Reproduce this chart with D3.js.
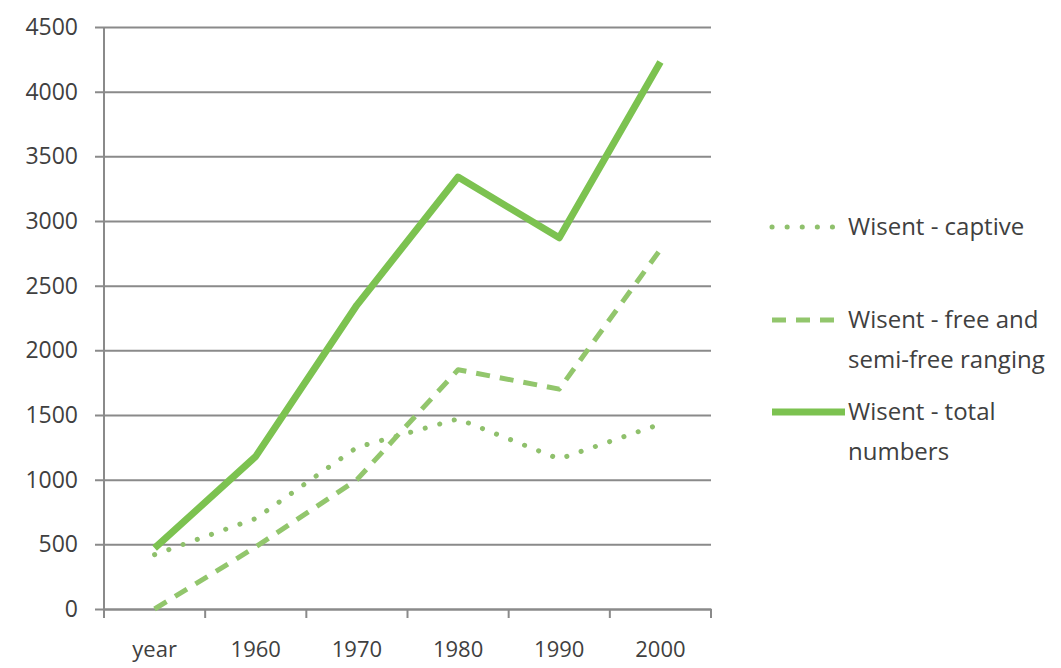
<!DOCTYPE html>
<html>
<head>
<meta charset="utf-8">
<script src="https://cdn.jsdelivr.net/npm/d3@7"></script>
<style>
  body { margin: 0; background: #fff; }
  text { font-family: "Open Sans", "Liberation Sans", sans-serif; fill: #404040; }
</style>
</head>
<body>
<div id="chart"></div>
<script>
// categories along the x axis
let years = ["year", "1960", "1970", "1980", "1990", "2000"];
// series values
let captive = [420, 700, 1250, 1470, 1160, 1430];
let freeRanging = [0, 480, 1000, 1850, 1700, 2780];
let total = [470, 1180, 2350, 3340, 2870, 4230];
let yTicks = [0, 500, 1000, 1500, 2000, 2500, 3000, 3500, 4000, 4500];

let series = [
    {name: ["Wisent - captive"], values: captive, color: "#8fc06c", width: 5, dash: "0.1 15", cap: "round"},
    {name: ["Wisent - free and", "semi-free ranging"], values: freeRanging, color: "#92c66c", width: 5, dash: "14 10", cap: "butt"},
    {name: ["Wisent - total", "numbers"], values: total, color: "#7cc250", width: 7, dash: null, cap: "butt"}
];

let margin = {top: 27, right: 350, bottom: 59, left: 104},
    width = 1061 - margin.left - margin.right,
    height = 668 - margin.top - margin.bottom;

let svg = d3.select("#chart").append("svg")
    .attr("width", 1061)
    .attr("height", 668)
    .append("g")
    .attr("transform", "translate(" + margin.left + "," + margin.top + ")");

let x = d3.scaleBand().domain(years).range([0, width]);
let y = d3.scaleLinear().domain([0, 4500]).range([height, 0]);

// gridlines + y axis
let yAxis = svg.append("g")
    .call(d3.axisLeft(y).tickValues(yTicks).tickSize(-width).tickPadding(26).tickFormat(d3.format("d")));
yAxis.select(".domain").remove();
yAxis.selectAll(".tick line").attr("stroke", "#8a8a8a").attr("stroke-width", 2).attr("x1", -9);
yAxis.selectAll(".tick text").style("font-size", "23px").attr("fill", "#404040");

svg.append("line")
    .attr("x1", 0).attr("x2", 0)
    .attr("y1", 0).attr("y2", height + 9)
    .attr("stroke", "#8a8a8a").attr("stroke-width", 2);

// x axis with ticks at band edges
let xAxis = svg.append("g")
    .attr("transform", "translate(0," + height + ")")
    .call(d3.axisBottom(x).tickSize(0).tickPadding(32));
xAxis.select(".domain").attr("stroke", "#8a8a8a").attr("stroke-width", 2);
xAxis.selectAll(".tick text").style("font-size", "22px").attr("fill", "#404040");
xAxis.selectAll(".edge")
    .data(years.slice(1).concat(["end"]))
    .join("line")
    .attr("class", "edge")
    .attr("x1", (d, i) => x(years[0]) + (i + 1) * x.step())
    .attr("x2", (d, i) => x(years[0]) + (i + 1) * x.step())
    .attr("y1", 0).attr("y2", 9)
    .attr("stroke", "#8a8a8a").attr("stroke-width", 2);

let line = d3.line()
    .x((d, i) => x(years[i]) + x.bandwidth() / 2)
    .y(d => y(d));

svg.selectAll(".series")
    .data(series)
    .join("path")
    .attr("class", "series")
    .attr("d", d => line(d.values))
    .attr("fill", "none")
    .attr("stroke", d => d.color)
    .attr("stroke-width", d => d.width)
    .attr("stroke-dasharray", d => d.dash)
    .attr("stroke-linecap", d => d.cap)
    .attr("stroke-linejoin", "round");

// legend
let legendY = [200, 293, 385];
let legend = svg.selectAll(".legend")
    .data(series)
    .join("g")
    .attr("class", "legend")
    .attr("transform", (d, i) => "translate(" + (width + 57) + "," + legendY[i] + ")");

legend.append("line")
    .attr("x1", 4).attr("x2", d => d.dash ? 75 : 77)
    .attr("y1", 0).attr("y2", 0)
    .attr("stroke", d => d.color)
    .attr("stroke-width", d => d.width)
    .attr("stroke-dasharray", d => d.dash)
    .attr("stroke-linecap", d => d.cap);

legend.append("text")
    .attr("y", 8)
    .style("font-size", "24px")
    .selectAll("tspan")
    .data(d => d.name)
    .join("tspan")
    .attr("x", 80)
    .attr("dy", (d, i) => i ? 40 : 0)
    .text(d => d);
</script>
</body>
</html>
